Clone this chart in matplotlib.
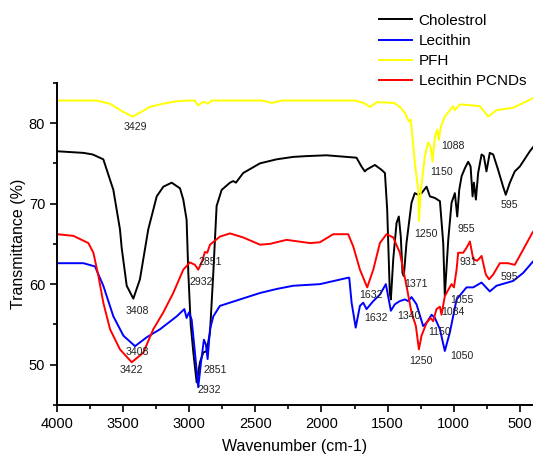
import matplotlib
matplotlib.use('Agg')
import matplotlib.pyplot as plt
from matplotlib.ticker import MultipleLocator

plt.rcParams['font.family'] = ['Liberation Sans', 'DejaVu Sans']

'''FTIR spectra read off the figure'''
wn_chol = [4000, 3800, 3730, 3650, 3574, 3524, 3511, 3473, 3423, 3373, 3310, 3246, 3196, 3133,
           3070, 3045, 3020, 3007, 2989, 2969, 2944, 2919, 2894, 2869, 2843, 2818, 2793, 2755,
           2692, 2667, 2647, 2592, 2465, 2339, 2214, 2112, 1962, 1735, 1697, 1672, 1660, 1596,
           1546, 1520, 1503, 1483, 1475, 1457, 1432, 1415, 1400, 1387, 1377, 1357, 1319, 1294,
           1269, 1243, 1205, 1180, 1142, 1104, 1079, 1067, 1041, 1016, 991, 973, 958, 940, 915,
           890, 872, 857, 847, 832, 815, 789, 772, 752, 727, 701, 664, 626, 606, 575, 538, 500,
           424, 400]
t_chol = [76.5, 76.3, 76.1, 75.5, 71.7, 66.8, 64.5, 59.8, 58.2, 60.6, 66.8, 70.9, 72.1, 72.6,
          71.9, 70.5, 68.0, 61.4, 55.0, 51.5, 47.8, 50.3, 51.5, 51.7, 54.0, 61.4, 69.7, 71.7,
          72.6, 72.8, 72.6, 73.8, 75.0, 75.5, 75.8, 75.9, 76.0, 75.7, 74.6, 74.0, 74.2, 74.8,
          74.2, 73.8, 69.3, 58.9, 58.1, 63.1, 67.6, 68.4, 65.9, 61.4, 61.0, 65.1, 70.1, 71.3,
          71.1, 71.3, 72.1, 70.9, 70.7, 70.3, 65.1, 58.6, 65.5, 70.1, 71.3, 68.4, 71.7, 73.4, 74.4,
          75.2, 74.6, 70.9, 72.6, 70.5, 73.8, 76.1, 75.9, 74.0, 76.3, 76.1, 74.2, 72.1, 71.1, 72.6,
          74.0, 74.6, 76.5, 77.0]

wn_lec = [4000, 3800, 3713, 3650, 3574, 3498, 3410, 3322, 3221, 3095, 3037, 3020, 3002, 2982,
          2957, 2932, 2911, 2889, 2874, 2861, 2843, 2818, 2768, 2617, 2465, 2339, 2214, 2012,
          1798, 1790, 1772, 1741, 1709, 1684, 1659, 1608, 1558, 1513, 1475, 1445, 1407, 1369,
          1344, 1319, 1281, 1231, 1205, 1167, 1142, 1104, 1067, 1029, 978, 903, 852, 789, 727,
          676, 550, 474, 411, 400]
t_lec = [62.6, 62.6, 62.2, 59.8, 56.0, 53.6, 52.3, 53.4, 54.4, 56.0, 56.9, 55.8, 56.5, 55.6,
         51.5, 47.2, 50.3, 53.1, 52.5, 50.7, 54.4, 56.0, 57.3, 58.1, 58.9, 59.4, 59.8, 60.0,
         60.8, 60.8, 57.7, 54.6, 57.3, 57.7, 56.9, 57.9, 58.7, 60.0, 56.7, 57.5, 57.9, 58.1,
         57.9, 58.4, 57.5, 54.8, 55.2, 56.2, 55.8, 54.4, 51.7, 54.0, 58.1, 59.6, 59.6, 60.2, 59.1,
         59.8, 60.4, 61.4, 62.6, 62.8]

wn_pfh = [4000, 3700, 3600, 3500, 3429, 3350, 3300, 3200, 3100, 3000, 2960, 2932, 2900, 2880,
          2858, 2830, 2700, 2450, 2375, 2300, 2000, 1750, 1680, 1634, 1580, 1450, 1407, 1369,
          1339, 1324, 1294, 1268, 1263, 1248, 1218, 1193, 1175, 1160, 1142, 1125, 1112, 1097,
          1067, 1005, 993, 953, 928, 802, 739, 676, 550, 424, 400]
t_pfh = [82.8, 82.8, 82.4, 81.4, 80.8, 81.5, 82.0, 82.4, 82.7, 82.8, 82.8, 82.2, 82.6, 82.6,
         82.4, 82.8, 82.8, 82.8, 82.5, 82.8, 82.8, 82.8, 82.5, 82.0, 82.6, 82.5, 82.0, 81.3,
         80.2, 80.4, 75.1, 71.7, 67.8, 71.7, 75.9, 77.6, 77.1, 75.2, 78.3, 79.2, 77.9, 79.6,
         80.8, 82.1, 81.6, 82.3, 82.3, 82.1, 80.8, 81.6, 81.9, 82.9, 83.1]

wn_pcnd = [4000, 3877, 3763, 3725, 3687, 3650, 3599, 3524, 3435, 3347, 3272, 3196, 3121, 3045,
           2995, 2957, 2932, 2906, 2881, 2864, 2843, 2768, 2692, 2592, 2465, 2390, 2264, 2087,
           2012, 1911, 1798, 1760, 1709, 1654, 1608, 1558, 1508, 1457, 1407, 1357, 1319, 1286,
           1263, 1243, 1205, 1175, 1155, 1130, 1104, 1092, 1067, 1041, 1016, 998, 978, 966, 928,
           903, 877, 852, 822, 789, 757, 732, 701, 651, 588, 538, 474, 411, 400]
t_pcnd = [66.2, 66.0, 65.1, 63.9, 61.0, 57.7, 54.4, 51.9, 50.3, 51.5, 54.4, 56.5, 58.9, 61.8,
          62.7, 62.4, 61.8, 62.7, 64.0, 63.9, 64.9, 65.9, 66.3, 65.8, 64.9, 65.0, 65.5, 65.1,
          65.2, 66.2, 66.2, 64.7, 61.8, 59.6, 61.8, 65.1, 66.2, 65.8, 63.9, 59.8, 56.5, 54.8,
          51.9, 53.6, 55.2, 55.8, 55.4, 56.9, 57.2, 56.2, 58.5, 59.3, 60.0, 59.6, 61.8, 63.9, 63.9,
          64.5, 65.3, 63.1, 62.9, 63.5, 61.2, 60.6, 61.2, 62.6, 62.6, 62.4, 64.3, 66.2, 66.5]

names = ['Cholestrol', 'Lecithin', 'PFH', 'Lecithin PCNDs']
colors = ['black', 'blue', '#ffff00', 'red']

'''Peak labels'''
peak_text = ['3429', '3408', '3408', '3422', '2932', '2851', '2851', '2932', '1088', '1150',
             '1250', '955', '595', '1632', '1632', '1371', '1340', '1250', '1150', '1050',
             '1084', '1055', '931', '595']
peak_x = [3411, 3390, 3390, 3441, 2911, 2838, 2806, 2848, 1009, 1092,
          1213, 903, 575, 1626, 1588, 1288, 1336, 1250, 1110, 941,
          1009, 941, 891, 580]
peak_y = [79.5, 56.7, 51.6, 49.3, 60.3, 62.8, 49.4, 46.9, 77.1, 73.9,
          66.2, 66.8, 69.8, 58.6, 55.8, 60.0, 56.0, 50.5, 54.1, 51.1,
          56.5, 58.0, 62.7, 60.9]

fig = plt.figure(figsize=(5.33, 4.55), dpi=100)
ax = fig.add_axes([0.107, 0.110, 0.893, 0.708])

for wn, t, name, c in zip([wn_chol, wn_lec, wn_pfh, wn_pcnd], [t_chol, t_lec, t_pfh, t_pcnd], names, colors):
    ax.plot(wn, t, color=c, lw=1.4, label=name)

for s, x, y in zip(peak_text, peak_x, peak_y):
    ax.text(x, y, s, fontsize=7.6, ha='center', va='center', color='#222222')

ax.set_xlim(4000, 400)
ax.set_ylim(45, 85)
ax.xaxis.set_major_locator(MultipleLocator(500))
ax.xaxis.set_minor_locator(MultipleLocator(250))
ax.yaxis.set_major_locator(MultipleLocator(10))
ax.yaxis.set_minor_locator(MultipleLocator(5))
for s in ['top', 'right']:
    ax.spines[s].set_visible(False)
for s in ['left', 'bottom']:
    ax.spines[s].set_linewidth(1.4)
ax.tick_params(which='major', length=5, width=1.2, labelsize=10.5, direction='out')
ax.tick_params(which='minor', length=3, width=1.2, direction='out')
ax.set_xlabel('Wavenumber (cm-1)', fontsize=11.5, labelpad=6)
ax.set_ylabel('Transmittance (%)', fontsize=11.5, labelpad=2)

leg = ax.legend(loc='upper left', bbox_to_anchor=(0.66, 1.238), frameon=False, fontsize=11,
                handlelength=2.2, handletextpad=0.4, labelspacing=0.4, borderpad=0)

fig.savefig('out.png', dpi=100)
